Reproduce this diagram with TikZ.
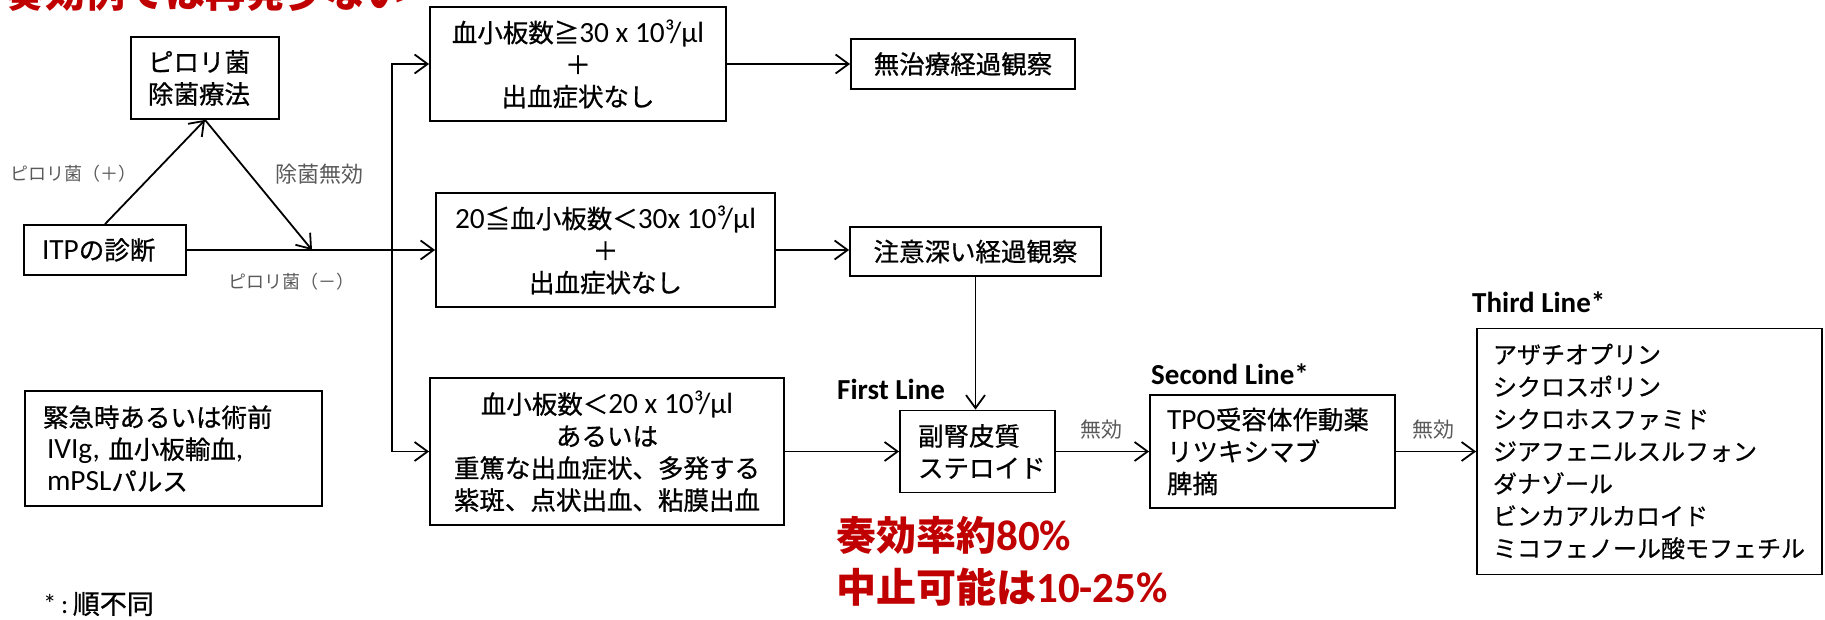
\documentclass[tikz,border=0pt]{standalone}
\usepackage{fontspec}
\setmainfont{Noto Sans CJK JP}
\newfontfamily\boxjp{Noto Sans CJK JP}[FakeBold=0.7]
\newfontfamily\latf{Carlito}[Scale=1.15]
\newfontfamily\latfull{Carlito}
\newcommand{\lat}[1]{{\latf #1}}
\usetikzlibrary{arrows.meta}
\definecolor{redtxt}{HTML}{C00000}
\definecolor{graytxt}{HTML}{5A5A5A}
\begin{document}
\begin{tikzpicture}[x=1pt,y=-1pt,
  box/.style={draw, line width=1.8pt, inner sep=0pt, font=\boxjp\fontsize{25.5}{32}\selectfont, align=center},
  arr/.style={line width=1.8pt, -{Straight Barb[length=13pt,width=19pt]}},
  lbl/.style={text=graytxt, inner sep=0pt},
  head/.style={font=\latfull\bfseries\fontsize{29}{34}\selectfont, inner sep=0pt, anchor=west},
  redlbl/.style={text=redtxt, font=\bfseries\fontsize{40}{44}\selectfont, inner sep=0pt, anchor=west}
]
\useasboundingbox (0,0) rectangle (1825,620);
\clip (0,0) rectangle (1825,620);

% title (cut at top, as in the reference)
\node[redlbl, anchor=base west] (title) at (5,8) {奏効例では再発少ない};

% boxes
\node[box, minimum width=148pt, minimum height=82pt, text width=114pt, align=left] (pylori) at (205,78) {ピロリ菌\\除菌療法};
\node[box, minimum width=162pt, minimum height=50pt, text width=126pt, align=left] (itp) at (105,250) {\lat{ITP}の診断};
\node[box, minimum width=296pt, minimum height=114pt] (box1) at (578,64) {血小板数≧\lat{30 x 10³/μl}\\＋\\出血症状なし};
\node[box, minimum width=224pt, minimum height=50pt] (nochi) at (963,64) {無治療経過観察};
\node[box, minimum width=339pt, minimum height=114pt] (box2) at (605.5,250) {\lat{20}≦血小板数＜\lat{30x 10³/μl}\\＋\\出血症状なし};
\node[box, minimum width=251pt, minimum height=49pt] (chui) at (975.5,251.5) {注意深い経過観察};
\node[box, minimum width=354pt, minimum height=147pt] (box3) at (607,451.5) {血小板数＜\lat{20 x 10³/μl}\\あるいは\\重篤な出血症状、多発する\\紫斑、点状出血、粘膜出血};
\node[box, minimum width=155pt, minimum height=82pt, text width=119pt, align=left] (steroid) at (977.5,451.5) {副腎皮質\\ステロイド};
\node[box, minimum width=245pt, minimum height=113pt, text width=211pt, align=left] (second) at (1272.5,451.5) {\lat{TPO}受容体作動薬\\リツキシマブ\\脾摘};
\node[box, minimum width=345pt, minimum height=246pt, text width=313pt, align=left, font=\boxjp\fontsize{24}{32.3}\selectfont] (third) at (1649.5,451.5) {アザチオプリン\\シクロスポリン\\シクロホスファミド\\ジアフェニルスルフォン\\ダナゾール\\ビンカアルカロイド\\ミコフェノール酸モフェチル};
\node[box, minimum width=297pt, minimum height=115pt, text width=261pt, align=left] (emerg) at (173.5,448.5) {緊急時あるいは術前\\\hspace*{4pt}\lat{IVIg,} 血小板輸血\lat{,}\\\hspace*{4pt}\lat{mPSL}パルス};

% connectors
\coordinate (j) at (312,250);
\coordinate (vx) at (392,250);
\draw[arr] (itp.north) -- (pylori.south);
\draw[arr] (pylori.south) -- (j);
\draw[arr] (itp.east) -- (box2.west);
\draw[arr] (vx) |- (box1.west);
\draw[arr] (vx) |- (box3.west);
\draw[arr] (box1.east) -- (box1.east -| nochi.west);
\draw[arr] (box2.east) -- (box2.east -| chui.west);
\draw[arr] (chui.south) -- (chui.south |- steroid.north);
\draw[arr] (box3.east) -- (box3.east -| steroid.west);
\draw[arr] (steroid.east) -- (steroid.east -| second.west);
\draw[arr] (second.east) -- (second.east -| third.west);

% labels
\node[lbl, font=\fontsize{18}{20}\selectfont] (lp) at (73,174) {ピロリ菌（＋）};
\node[lbl, font=\fontsize{22}{24}\selectfont] (lj) at (319,174) {除菌無効};
\node[lbl, font=\fontsize{18}{20}\selectfont] (lm) at (291,282) {ピロリ菌（－）};
\node[lbl, font=\fontsize{21}{24}\selectfont] (m1) at (1101,430) {無効};
\node[lbl, font=\fontsize{21}{24}\selectfont] (m2) at (1433,430) {無効};

\node[head] (h1) at (837,389) {First Line};
\node[head] (h2) at (1151,374) {Second Line*};
\node[head] (h3) at (1472,302) {Third Line*};

\node[redlbl] (r1) at (836,535) {奏効率約{\latfull\bfseries\fontsize{43}{44}\selectfont 80\%}};
\node[redlbl] (r2) at (836,587) {中止可能は{\latfull\bfseries\fontsize{43}{44}\selectfont 10-25\%}};

\node[anchor=west, inner sep=0pt, font=\boxjp\fontsize{27}{30}\selectfont] (fn) at (43,604) {{\latfull *\,:\,}順不同};
\end{tikzpicture}
\end{document}
